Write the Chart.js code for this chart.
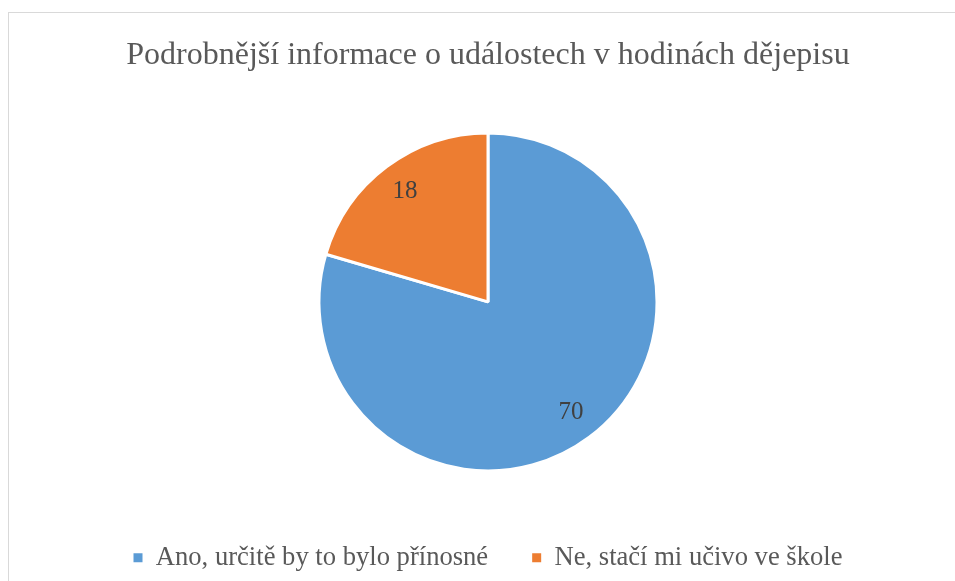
<!DOCTYPE html>
<html>
<head>
<meta charset="utf-8">
<script src="https://cdn.jsdelivr.net/npm/chart.js@4"></script>
<style>
  html, body { margin: 0; padding: 0; background: #fff; overflow: hidden; }
  #wrap { width: 955px; height: 581px; position: relative; }
</style>
</head>
<body>
<div id="wrap"><canvas id="graf"></canvas></div>
<script>
// data
const kategorie = ['Ano, určitě by to bylo přínosné', 'Ne, stačí mi učivo ve škole'];
const hodnoty = [70, 18];
const barvy = ['#5b9bd5', '#ed7d31'];
const nadpis = 'Podrobnější informace o událostech v hodinách dějepisu';

const pismo = "'Liberation Serif', 'Times New Roman', serif";

// ramecek okolo grafu
const ramecek = {
    id: 'ramecek',
    beforeDraw(chart) {
        const ctx = chart.ctx;
        ctx.save();
        ctx.strokeStyle = '#d9d9d9';
        ctx.lineWidth = 1;
        ctx.strokeRect(8.5, 12.5, 1000, 700);
        ctx.restore();
    }
};

// popisky hodnot uvnitr vysecu
const popisky = {
    id: 'popisky',
    afterDatasetsDraw(chart) {
        const ctx = chart.ctx;
        const meta = chart.getDatasetMeta(0);
        ctx.save();
        ctx.fillStyle = '#404040';
        ctx.font = '25px ' + pismo;
        ctx.textAlign = 'center';
        ctx.textBaseline = 'middle';
        meta.data.forEach((arc, i) => {
            const p = arc.getProps(['x', 'y', 'startAngle', 'endAngle', 'outerRadius'], true);
            const uhel = (p.startAngle + p.endAngle) / 2;
            const r = p.outerRadius * 0.82;
            ctx.fillText(hodnoty[i], p.x + Math.cos(uhel) * r, p.y + Math.sin(uhel) * r);
        });
        ctx.restore();
    }
};

const vychoziLegenda = Chart.controllers.pie.overrides.plugins.legend.labels.generateLabels;

new Chart(document.getElementById('graf'), {
    type: 'pie',
    data: {
        labels: kategorie,
        datasets: [{
            data: hodnoty,
            backgroundColor: barvy,
            borderColor: '#ffffff',
            borderWidth: 3,
            radius: 169
        }]
    },
    options: {
        responsive: true,
        maintainAspectRatio: false,
        animation: false,
        layout: { padding: { left: 21, bottom: 0 } },
        plugins: {
            title: {
                display: true,
                text: nadpis,
                color: '#595959',
                font: { family: pismo, size: 32, weight: 'normal' },
                padding: { top: 36, bottom: 29 }
            },
            legend: {
                position: 'bottom',
                labels: {
                    color: '#595959',
                    font: { family: pismo, size: 26.6 },
                    boxWidth: 9,
                    boxHeight: 9,
                    padding: 44,
                    generateLabels(chart) {
                        return vychoziLegenda(chart).map(l => {
                            l.lineWidth = 0;
                            l.strokeStyle = l.fillStyle;
                            return l;
                        });
                    }
                }
            },
            tooltip: { enabled: false }
        }
    },
    plugins: [ramecek, popisky]
});
</script>
</body>
</html>
